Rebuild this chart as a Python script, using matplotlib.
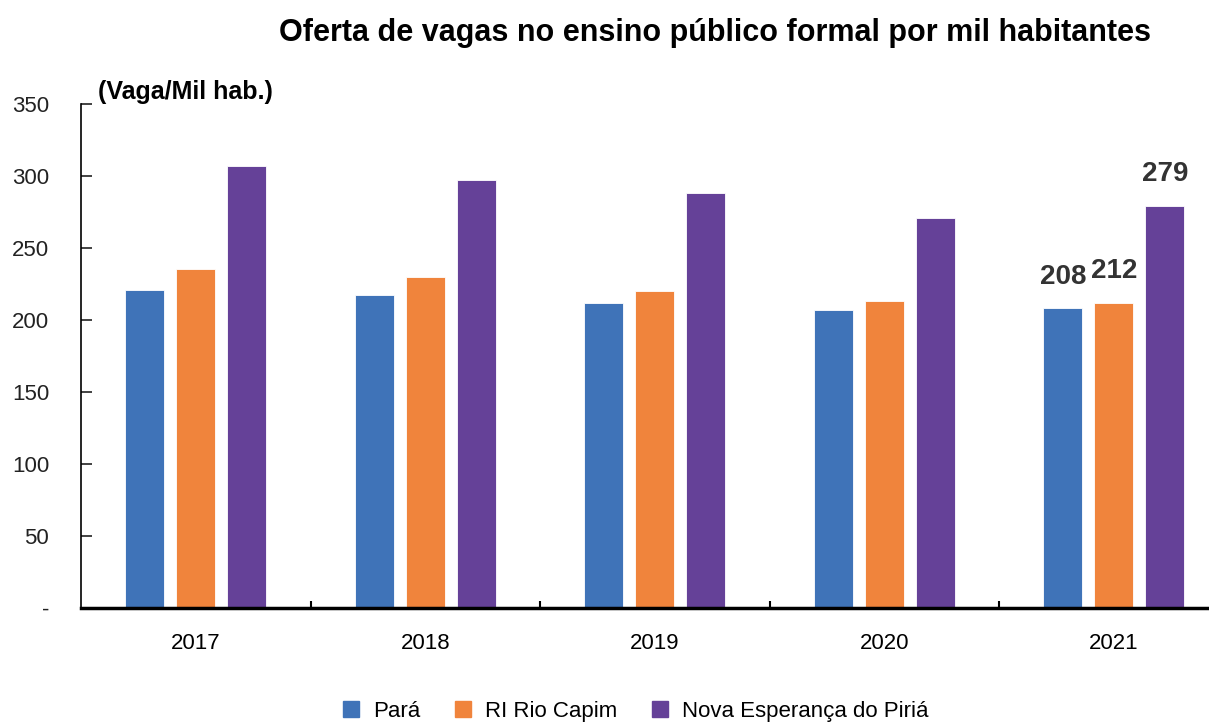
import numpy as np
import matplotlib
matplotlib.use("Agg")
from matplotlib import pyplot as plt
from matplotlib.lines import Line2D

years = ["2017", "2018", "2019", "2020", "2021"]
para = [221, 217, 212, 207, 208]
rio_capim = [235, 230, 220, 213, 212]
nova_esperanca = [307, 297, 288, 271, 279]
series_names = ["Pará", "RI Rio Capim", "Nova Esperança do Piriá"]
yticks = [0, 50, 100, 150, 200, 250, 300, 350]
ytick_labels = ["-", "50", "100", "150", "200", "250", "300", "350"]

colors = ["#3F73B8", "#F0843C", "#654198"]
plt.rcParams['font.family'] = ['Liberation Sans', 'DejaVu Sans']

fig = plt.figure(figsize=(12.09, 7.26), dpi=100)
ax = fig.add_axes([0.067, 0.1625, 0.933, 0.6945])

x = np.arange(len(years))
bar_width = 0.17
offset = 0.222
all_series = [para, rio_capim, nova_esperanca]
for i, vals in enumerate(all_series):
	ax.bar(x + (i - 1) * offset, vals, bar_width, color=colors[i],
	       edgecolor="white", linewidth=0.6, label=series_names[i])

# labels only on the last year
for i, vals in enumerate(all_series):
	ax.text(x[-1] + (i - 1) * offset, vals[-1] + 13, str(vals[-1]), ha="center", va="bottom",
	        fontsize=20, fontweight="bold", color="#333333")

ax.set_yticks(yticks)
ax.set_yticklabels(ytick_labels, fontsize=16)
ax.tick_params(axis="y", direction="in", length=8, width=1.2, pad=23, colors="#222222")
ax.set_xticks(x)
ax.set_xticklabels(years, fontsize=16)
ax.tick_params(axis="x", which="major", length=0, pad=18)
ax.set_xticks(np.arange(0.5, 4.0, 1.0), minor=True)
ax.tick_params(axis="x", which="minor", direction="in", length=5, width=1.5)
ax.set_xlim(-0.5, 4.415)
ax.set_ylim(0, 350)

ax.spines["top"].set_visible(False)
ax.spines["right"].set_visible(False)
ax.spines["left"].set_linewidth(1.2)
ax.spines["bottom"].set_linewidth(2.5)

fig.text(0.591, 0.955, "Oferta de vagas no ensino público formal por mil habitantes",
         ha="center", va="center", fontsize=22, fontweight="bold")
fig.text(0.081, 0.873, "(Vaga/Mil hab.)", ha="left", va="center", fontsize=18, fontweight="bold")

handles = [Line2D([], [], marker="s", linestyle="none", markersize=11, color=c) for c in colors]
fig.legend(handles, series_names, loc="center", bbox_to_anchor=(0.52, 0.02), ncol=3,
           frameon=False, fontsize=16, handletextpad=0.0, columnspacing=0.9)

fig.savefig("out.png", dpi=100)
